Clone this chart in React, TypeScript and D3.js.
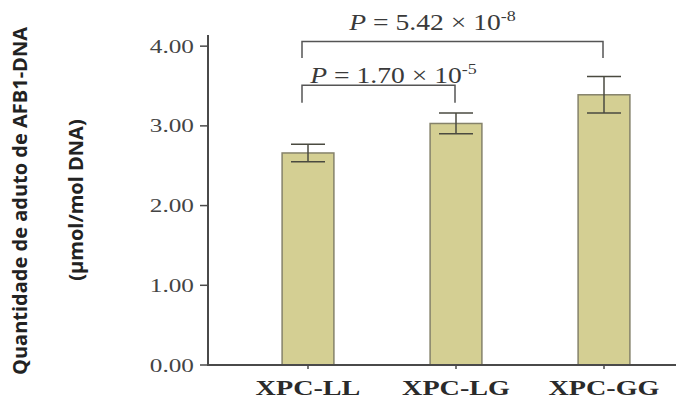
import React, { useRef, useEffect } from "react";
import * as d3 from "d3";

const categories = ["XPC-LL", "XPC-LG", "XPC-GG"];
const means = [2.66, 3.03, 3.39];
const errors = [0.11, 0.13, 0.23];
const yTicks = [0, 1, 2, 3, 4];

// significance brackets: from/to category index, level of bar (top) and drop (bottom)
const bracketFrom = [0, 0];
const bracketTo = [1, 2];
const bracketTop = [3.51, 4.06];
const bracketBottom = [3.29, 3.85];
const pMantissa = ["1.70", "5.42"];
const pExponent = ["-5", "-8"];

const App = () => {
  const ref = useRef<SVGSVGElement>(null);

  useEffect(() => {
    const svg = d3.select(ref.current);
    svg.selectAll("*").remove();

    const width = 676;
    const height = 400;
    const axisColor = "#4a4a4a";
    const textColor = "#3a3a3a";
    const stretch = 1.28; // the source image is widened horizontally

    svg.attr("width", width).attr("height", height);

    const y = d3.scaleLinear().domain([0, 4.14]).range([365, 35]);
    const x = d3
      .scaleBand()
      .domain(categories)
      .range([234, 678])
      .paddingInner(0.65)
      .paddingOuter(0.325);

    const cx = (i: number) => (x(categories[i]) as number) + x.bandwidth() / 2;

    // bars
    svg
      .append("g")
      .selectAll("rect")
      .data(means)
      .join("rect")
      .attr("x", (_d, i) => x(categories[i]) as number)
      .attr("y", (d) => y(d))
      .attr("width", x.bandwidth())
      .attr("height", (d) => y(0) - y(d))
      .attr("fill", "#d4cf93")
      .attr("stroke", "#85826a")
      .attr("stroke-width", 1.5);

    // error bars
    const eb = svg.append("g").attr("stroke", "#4a4a40").attr("stroke-width", 1.5);
    means.forEach((m, i) => {
      const c = cx(i);
      const cap = 17;
      eb.append("line").attr("x1", c).attr("x2", c).attr("y1", y(m + errors[i])).attr("y2", y(m - errors[i]));
      eb.append("line").attr("x1", c - cap).attr("x2", c + cap).attr("y1", y(m + errors[i])).attr("y2", y(m + errors[i]));
      eb.append("line").attr("x1", c - cap).attr("x2", c + cap).attr("y1", y(m - errors[i])).attr("y2", y(m - errors[i]));
    });

    // y axis
    const ya = svg.append("g");
    ya.append("line")
      .attr("x1", 208).attr("x2", 208)
      .attr("y1", y.range()[1]).attr("y2", y(0))
      .attr("stroke", axisColor).attr("stroke-width", 2);
    yTicks.forEach((t) => {
      ya.append("line")
        .attr("x1", 200).attr("x2", 208)
        .attr("y1", y(t)).attr("y2", y(t))
        .attr("stroke", axisColor).attr("stroke-width", 1.5);
      ya.append("g")
        .attr("transform", `translate(194,${y(t) + 6.5}) scale(${stretch + 0.05},1)`)
        .append("text")
        .attr("text-anchor", "end")
        .attr("font-family", "'Liberation Serif', 'Times New Roman', serif")
        .attr("font-size", 19)
        .attr("fill", "#444")
        .text(t.toFixed(2));
    });

    // x axis
    const xa = svg.append("g");
    xa.append("line")
      .attr("x1", 207).attr("x2", 676)
      .attr("y1", y(0)).attr("y2", y(0))
      .attr("stroke", axisColor).attr("stroke-width", 2);
    categories.forEach((c, i) => {
      xa.append("line")
        .attr("x1", cx(i)).attr("x2", cx(i))
        .attr("y1", y(0)).attr("y2", y(0) + 4)
        .attr("stroke", axisColor).attr("stroke-width", 1.5);
      xa.append("g")
        .attr("transform", `translate(${cx(i)},395) scale(${stretch},1)`)
        .append("text")
        .attr("text-anchor", "middle")
        .attr("font-family", "'Liberation Serif', 'Times New Roman', serif")
        .attr("font-weight", "bold")
        .attr("font-size", 22)
        .attr("fill", "#2a2a2a")
        .text(c);
    });

    // brackets + p-values
    const br = svg.append("g");
    const labelShift = [15, -20];
    const labelRaise = [2, 11];
    bracketFrom.forEach((f, k) => {
      const x1 = cx(f) - 6;
      const x2 = cx(bracketTo[k]) - 1;
      const yt = y(bracketTop[k]);
      const yb = y(bracketBottom[k]);
      br.append("path")
        .attr("d", `M${x1},${yb}V${yt}H${x2}V${yb}`)
        .attr("fill", "none")
        .attr("stroke", "#555")
        .attr("stroke-width", 1.5);
      const t = br
        .append("g")
        .attr("transform", `translate(${(x1 + x2) / 2 + labelShift[k]},${yt - labelRaise[k]}) scale(1.2,1)`)
        .append("text")
        .attr("text-anchor", "middle")
        .attr("font-family", "'Liberation Serif', 'Times New Roman', serif")
        .attr("font-size", 23)
        .attr("fill", textColor);
      t.append("tspan").attr("font-style", "italic").text("P");
      t.append("tspan").text(` = ${pMantissa[k]}  \u00d7 10`);
      t.append("tspan").attr("font-size", 15).attr("dy", -9).text(pExponent[k]);
    });

    // y title
    const title = svg.append("g").attr("font-family", "'Open Sans', sans-serif").attr("font-weight", "bold").attr("font-size", 20).attr("fill", "#222");
    title.append("text")
      .attr("transform", "translate(27,201) rotate(-90)")
      .attr("text-anchor", "middle")
      .text("Quantidade de aduto de AFB1-DNA");
    title.append("text")
      .attr("transform", "translate(83,200) rotate(-90)")
      .attr("text-anchor", "middle")
      .text("(\u00b5mol/mol DNA)");
  }, []);

  return <svg ref={ref} style={{ position: "absolute", left: 0, top: 0, background: "#fff" }}></svg>;
};

export default App;
